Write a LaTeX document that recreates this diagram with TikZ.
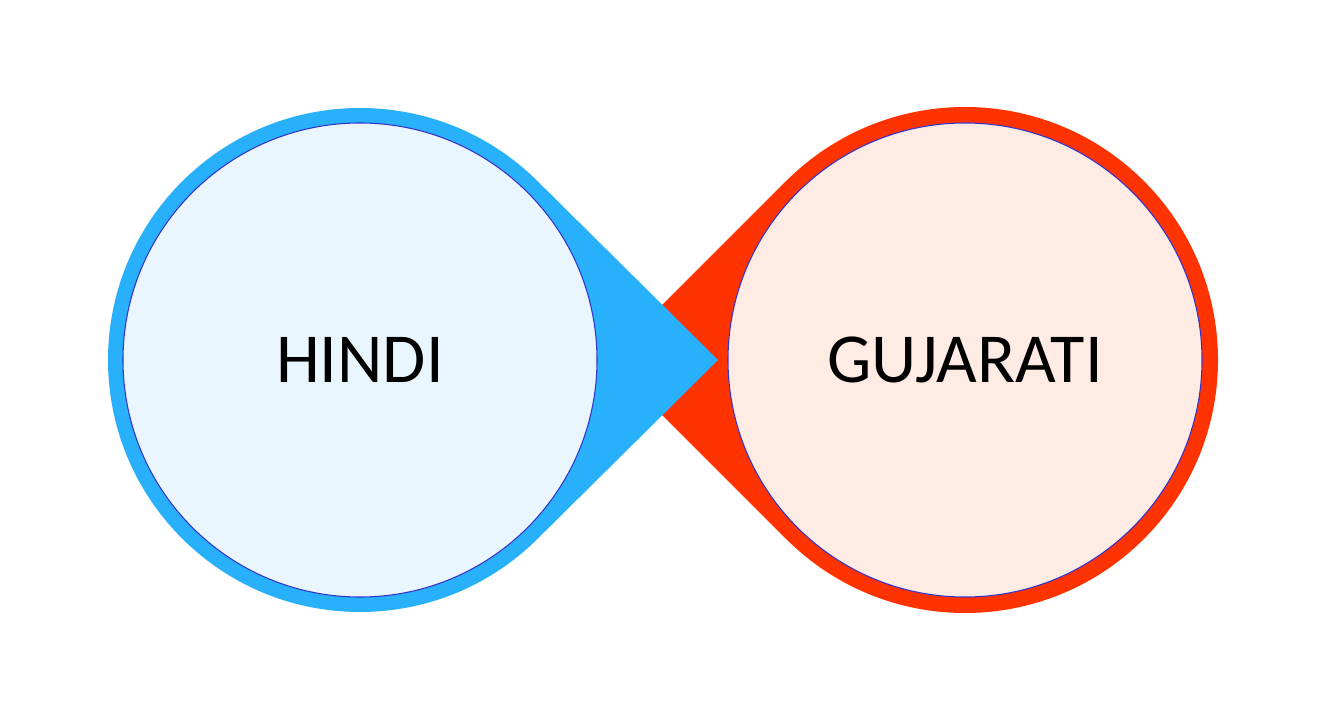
\documentclass[tikz,border=0pt]{standalone}
\usepackage{fontspec}
\setmainfont{Carlito}
\usetikzlibrary{calc}

\definecolor{hindiblue}{RGB}{41,176,250}
\definecolor{hindifill}{RGB}{234,246,254}
\definecolor{gujred}{RGB}{255,51,0}
\definecolor{gujfill}{RGB}{253,235,228}

\begin{document}
\begin{tikzpicture}[x=0.02cm,y=-0.02cm,
  label text/.style={font=\fontsize{40}{48}\selectfont,text=black},
  inner disc/.style={line width=0.6pt,draw=blue!60!gray}]

  \useasboundingbox (0,0) rectangle (1325,722);

  % red drop, tip to the left
  \coordinate (gc) at (965,360);
  \fill [gujred] (607,360) -- ($(gc)+(135:253)$) arc (135:-135:253) -- cycle;
  \filldraw [inner disc, fill=gujfill] (gc) circle (237);
  \node [label text] (gujarati) at (gc) {GUJARATI};

  % blue drop, tip to the right
  \coordinate (hc) at (360,360);
  \fill [hindiblue] (718,360) -- ($(hc)+(45:252)$) arc (45:315:252) -- cycle;
  \filldraw [inner disc, fill=hindifill] (hc) circle (237);
  \node [label text] (hindi) at (hc) {HINDI};
\end{tikzpicture}
\end{document}
